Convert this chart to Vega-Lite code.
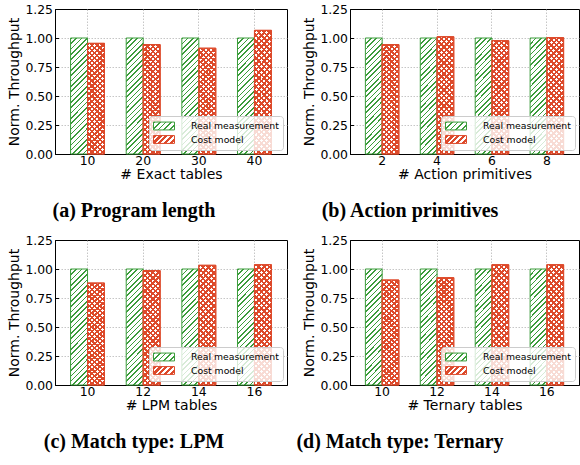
{
  "$schema": "https://vega.github.io/schema/vega-lite/v6.json",
  "padding": {"left": 7, "top": 2, "right": 0, "bottom": 0},
  "params": [
    {"name": "legG", "value": {"gradient": "linear", "x1": 0, "y1": 0, "x2": 1.206, "y2": 0.4535, "stops": [
      {"offset": 0, "color": "#3b9c3b"}, {"offset": 0.06, "color": "#3b9c3b"}, {"offset": 0.06, "color": "#ffffff"}, {"offset": 0.2, "color": "#ffffff"},
      {"offset": 0.2, "color": "#3b9c3b"}, {"offset": 0.26, "color": "#3b9c3b"}, {"offset": 0.26, "color": "#ffffff"}, {"offset": 0.4, "color": "#ffffff"},
      {"offset": 0.4, "color": "#3b9c3b"}, {"offset": 0.46, "color": "#3b9c3b"}, {"offset": 0.46, "color": "#ffffff"}, {"offset": 0.6, "color": "#ffffff"},
      {"offset": 0.6, "color": "#3b9c3b"}, {"offset": 0.66, "color": "#3b9c3b"}, {"offset": 0.66, "color": "#ffffff"}, {"offset": 0.8, "color": "#ffffff"},
      {"offset": 0.8, "color": "#3b9c3b"}, {"offset": 0.86, "color": "#3b9c3b"}, {"offset": 0.86, "color": "#ffffff"}, {"offset": 1, "color": "#ffffff"}]}},
    {"name": "legR", "value": {"gradient": "linear", "x1": 0, "y1": 0, "x2": 1.206, "y2": 0.4535, "stops": [
      {"offset": 0, "color": "#dd4a2b"}, {"offset": 0.11, "color": "#dd4a2b"}, {"offset": 0.11, "color": "#ffffff"}, {"offset": 0.2, "color": "#ffffff"},
      {"offset": 0.2, "color": "#dd4a2b"}, {"offset": 0.31, "color": "#dd4a2b"}, {"offset": 0.31, "color": "#ffffff"}, {"offset": 0.4, "color": "#ffffff"},
      {"offset": 0.4, "color": "#dd4a2b"}, {"offset": 0.51, "color": "#dd4a2b"}, {"offset": 0.51, "color": "#ffffff"}, {"offset": 0.6, "color": "#ffffff"},
      {"offset": 0.6, "color": "#dd4a2b"}, {"offset": 0.71, "color": "#dd4a2b"}, {"offset": 0.71, "color": "#ffffff"}, {"offset": 0.8, "color": "#ffffff"},
      {"offset": 0.8, "color": "#dd4a2b"}, {"offset": 0.91, "color": "#dd4a2b"}, {"offset": 0.91, "color": "#ffffff"}, {"offset": 1, "color": "#ffffff"}]}},
    {"name": "gG", "value": {"gradient": "linear", "x1": 0, "y1": 0, "x2": 0.1646, "y2": 1.123, "stops": [
        {"offset": 0, "color": "#3b9c3b"}, {"offset": 0.012, "color": "#3b9c3b"}, {"offset": 0.012, "color": "#ffffff"}, {"offset": 0.04, "color": "#ffffff"},
        {"offset": 0.04, "color": "#3b9c3b"}, {"offset": 0.052, "color": "#3b9c3b"}, {"offset": 0.052, "color": "#ffffff"}, {"offset": 0.08, "color": "#ffffff"},
        {"offset": 0.08, "color": "#3b9c3b"}, {"offset": 0.092, "color": "#3b9c3b"}, {"offset": 0.092, "color": "#ffffff"}, {"offset": 0.12, "color": "#ffffff"},
        {"offset": 0.12, "color": "#3b9c3b"}, {"offset": 0.132, "color": "#3b9c3b"}, {"offset": 0.132, "color": "#ffffff"}, {"offset": 0.16, "color": "#ffffff"},
        {"offset": 0.16, "color": "#3b9c3b"}, {"offset": 0.172, "color": "#3b9c3b"}, {"offset": 0.172, "color": "#ffffff"}, {"offset": 0.2, "color": "#ffffff"},
        {"offset": 0.2, "color": "#3b9c3b"}, {"offset": 0.212, "color": "#3b9c3b"}, {"offset": 0.212, "color": "#ffffff"}, {"offset": 0.24, "color": "#ffffff"},
        {"offset": 0.24, "color": "#3b9c3b"}, {"offset": 0.252, "color": "#3b9c3b"}, {"offset": 0.252, "color": "#ffffff"}, {"offset": 0.28, "color": "#ffffff"},
        {"offset": 0.28, "color": "#3b9c3b"}, {"offset": 0.292, "color": "#3b9c3b"}, {"offset": 0.292, "color": "#ffffff"}, {"offset": 0.32, "color": "#ffffff"},
        {"offset": 0.32, "color": "#3b9c3b"}, {"offset": 0.332, "color": "#3b9c3b"}, {"offset": 0.332, "color": "#ffffff"}, {"offset": 0.36, "color": "#ffffff"},
        {"offset": 0.36, "color": "#3b9c3b"}, {"offset": 0.372, "color": "#3b9c3b"}, {"offset": 0.372, "color": "#ffffff"}, {"offset": 0.4, "color": "#ffffff"},
        {"offset": 0.4, "color": "#3b9c3b"}, {"offset": 0.412, "color": "#3b9c3b"}, {"offset": 0.412, "color": "#ffffff"}, {"offset": 0.44, "color": "#ffffff"},
        {"offset": 0.44, "color": "#3b9c3b"}, {"offset": 0.452, "color": "#3b9c3b"}, {"offset": 0.452, "color": "#ffffff"}, {"offset": 0.48, "color": "#ffffff"},
        {"offset": 0.48, "color": "#3b9c3b"}, {"offset": 0.492, "color": "#3b9c3b"}, {"offset": 0.492, "color": "#ffffff"}, {"offset": 0.52, "color": "#ffffff"},
        {"offset": 0.52, "color": "#3b9c3b"}, {"offset": 0.532, "color": "#3b9c3b"}, {"offset": 0.532, "color": "#ffffff"}, {"offset": 0.56, "color": "#ffffff"},
        {"offset": 0.56, "color": "#3b9c3b"}, {"offset": 0.572, "color": "#3b9c3b"}, {"offset": 0.572, "color": "#ffffff"}, {"offset": 0.6, "color": "#ffffff"},
        {"offset": 0.6, "color": "#3b9c3b"}, {"offset": 0.612, "color": "#3b9c3b"}, {"offset": 0.612, "color": "#ffffff"}, {"offset": 0.64, "color": "#ffffff"},
        {"offset": 0.64, "color": "#3b9c3b"}, {"offset": 0.652, "color": "#3b9c3b"}, {"offset": 0.652, "color": "#ffffff"}, {"offset": 0.68, "color": "#ffffff"},
        {"offset": 0.68, "color": "#3b9c3b"}, {"offset": 0.692, "color": "#3b9c3b"}, {"offset": 0.692, "color": "#ffffff"}, {"offset": 0.72, "color": "#ffffff"},
        {"offset": 0.72, "color": "#3b9c3b"}, {"offset": 0.732, "color": "#3b9c3b"}, {"offset": 0.732, "color": "#ffffff"}, {"offset": 0.76, "color": "#ffffff"},
        {"offset": 0.76, "color": "#3b9c3b"}, {"offset": 0.772, "color": "#3b9c3b"}, {"offset": 0.772, "color": "#ffffff"}, {"offset": 0.8, "color": "#ffffff"},
        {"offset": 0.8, "color": "#3b9c3b"}, {"offset": 0.812, "color": "#3b9c3b"}, {"offset": 0.812, "color": "#ffffff"}, {"offset": 0.84, "color": "#ffffff"},
        {"offset": 0.84, "color": "#3b9c3b"}, {"offset": 0.852, "color": "#3b9c3b"}, {"offset": 0.852, "color": "#ffffff"}, {"offset": 0.88, "color": "#ffffff"},
        {"offset": 0.88, "color": "#3b9c3b"}, {"offset": 0.892, "color": "#3b9c3b"}, {"offset": 0.892, "color": "#ffffff"}, {"offset": 0.92, "color": "#ffffff"},
        {"offset": 0.92, "color": "#3b9c3b"}, {"offset": 0.932, "color": "#3b9c3b"}, {"offset": 0.932, "color": "#ffffff"}, {"offset": 0.96, "color": "#ffffff"},
        {"offset": 0.96, "color": "#3b9c3b"}, {"offset": 0.972, "color": "#3b9c3b"}, {"offset": 0.972, "color": "#ffffff"}, {"offset": 1, "color": "#ffffff"}]}},
    {"name": "gR1", "value": {"gradient": "linear", "x1": 0, "y1": 0, "x2": 0.1646, "y2": 1.123, "stops": [
        {"offset": 0, "color": "#dd4a2b"}, {"offset": 0.018, "color": "#dd4a2b"}, {"offset": 0.018, "color": "#ffffff"}, {"offset": 0.04, "color": "#ffffff"},
        {"offset": 0.04, "color": "#dd4a2b"}, {"offset": 0.058, "color": "#dd4a2b"}, {"offset": 0.058, "color": "#ffffff"}, {"offset": 0.08, "color": "#ffffff"},
        {"offset": 0.08, "color": "#dd4a2b"}, {"offset": 0.098, "color": "#dd4a2b"}, {"offset": 0.098, "color": "#ffffff"}, {"offset": 0.12, "color": "#ffffff"},
        {"offset": 0.12, "color": "#dd4a2b"}, {"offset": 0.138, "color": "#dd4a2b"}, {"offset": 0.138, "color": "#ffffff"}, {"offset": 0.16, "color": "#ffffff"},
        {"offset": 0.16, "color": "#dd4a2b"}, {"offset": 0.178, "color": "#dd4a2b"}, {"offset": 0.178, "color": "#ffffff"}, {"offset": 0.2, "color": "#ffffff"},
        {"offset": 0.2, "color": "#dd4a2b"}, {"offset": 0.218, "color": "#dd4a2b"}, {"offset": 0.218, "color": "#ffffff"}, {"offset": 0.24, "color": "#ffffff"},
        {"offset": 0.24, "color": "#dd4a2b"}, {"offset": 0.258, "color": "#dd4a2b"}, {"offset": 0.258, "color": "#ffffff"}, {"offset": 0.28, "color": "#ffffff"},
        {"offset": 0.28, "color": "#dd4a2b"}, {"offset": 0.298, "color": "#dd4a2b"}, {"offset": 0.298, "color": "#ffffff"}, {"offset": 0.32, "color": "#ffffff"},
        {"offset": 0.32, "color": "#dd4a2b"}, {"offset": 0.338, "color": "#dd4a2b"}, {"offset": 0.338, "color": "#ffffff"}, {"offset": 0.36, "color": "#ffffff"},
        {"offset": 0.36, "color": "#dd4a2b"}, {"offset": 0.378, "color": "#dd4a2b"}, {"offset": 0.378, "color": "#ffffff"}, {"offset": 0.4, "color": "#ffffff"},
        {"offset": 0.4, "color": "#dd4a2b"}, {"offset": 0.418, "color": "#dd4a2b"}, {"offset": 0.418, "color": "#ffffff"}, {"offset": 0.44, "color": "#ffffff"},
        {"offset": 0.44, "color": "#dd4a2b"}, {"offset": 0.458, "color": "#dd4a2b"}, {"offset": 0.458, "color": "#ffffff"}, {"offset": 0.48, "color": "#ffffff"},
        {"offset": 0.48, "color": "#dd4a2b"}, {"offset": 0.498, "color": "#dd4a2b"}, {"offset": 0.498, "color": "#ffffff"}, {"offset": 0.52, "color": "#ffffff"},
        {"offset": 0.52, "color": "#dd4a2b"}, {"offset": 0.538, "color": "#dd4a2b"}, {"offset": 0.538, "color": "#ffffff"}, {"offset": 0.56, "color": "#ffffff"},
        {"offset": 0.56, "color": "#dd4a2b"}, {"offset": 0.578, "color": "#dd4a2b"}, {"offset": 0.578, "color": "#ffffff"}, {"offset": 0.6, "color": "#ffffff"},
        {"offset": 0.6, "color": "#dd4a2b"}, {"offset": 0.618, "color": "#dd4a2b"}, {"offset": 0.618, "color": "#ffffff"}, {"offset": 0.64, "color": "#ffffff"},
        {"offset": 0.64, "color": "#dd4a2b"}, {"offset": 0.658, "color": "#dd4a2b"}, {"offset": 0.658, "color": "#ffffff"}, {"offset": 0.68, "color": "#ffffff"},
        {"offset": 0.68, "color": "#dd4a2b"}, {"offset": 0.698, "color": "#dd4a2b"}, {"offset": 0.698, "color": "#ffffff"}, {"offset": 0.72, "color": "#ffffff"},
        {"offset": 0.72, "color": "#dd4a2b"}, {"offset": 0.738, "color": "#dd4a2b"}, {"offset": 0.738, "color": "#ffffff"}, {"offset": 0.76, "color": "#ffffff"},
        {"offset": 0.76, "color": "#dd4a2b"}, {"offset": 0.778, "color": "#dd4a2b"}, {"offset": 0.778, "color": "#ffffff"}, {"offset": 0.8, "color": "#ffffff"},
        {"offset": 0.8, "color": "#dd4a2b"}, {"offset": 0.818, "color": "#dd4a2b"}, {"offset": 0.818, "color": "#ffffff"}, {"offset": 0.84, "color": "#ffffff"},
        {"offset": 0.84, "color": "#dd4a2b"}, {"offset": 0.858, "color": "#dd4a2b"}, {"offset": 0.858, "color": "#ffffff"}, {"offset": 0.88, "color": "#ffffff"},
        {"offset": 0.88, "color": "#dd4a2b"}, {"offset": 0.898, "color": "#dd4a2b"}, {"offset": 0.898, "color": "#ffffff"}, {"offset": 0.92, "color": "#ffffff"},
        {"offset": 0.92, "color": "#dd4a2b"}, {"offset": 0.938, "color": "#dd4a2b"}, {"offset": 0.938, "color": "#ffffff"}, {"offset": 0.96, "color": "#ffffff"},
        {"offset": 0.96, "color": "#dd4a2b"}, {"offset": 0.978, "color": "#dd4a2b"}, {"offset": 0.978, "color": "#ffffff"}, {"offset": 1, "color": "#ffffff"}]}},
    {"name": "gR2", "value": {"gradient": "linear", "x1": 0, "y1": 1, "x2": 0.1646, "y2": -0.123, "stops": [
        {"offset": 0, "color": "#dd4a2b"}, {"offset": 0.018, "color": "#dd4a2b"}, {"offset": 0.018, "color": "rgba(255,255,255,0)"}, {"offset": 0.04, "color": "rgba(255,255,255,0)"},
        {"offset": 0.04, "color": "#dd4a2b"}, {"offset": 0.058, "color": "#dd4a2b"}, {"offset": 0.058, "color": "rgba(255,255,255,0)"}, {"offset": 0.08, "color": "rgba(255,255,255,0)"},
        {"offset": 0.08, "color": "#dd4a2b"}, {"offset": 0.098, "color": "#dd4a2b"}, {"offset": 0.098, "color": "rgba(255,255,255,0)"}, {"offset": 0.12, "color": "rgba(255,255,255,0)"},
        {"offset": 0.12, "color": "#dd4a2b"}, {"offset": 0.138, "color": "#dd4a2b"}, {"offset": 0.138, "color": "rgba(255,255,255,0)"}, {"offset": 0.16, "color": "rgba(255,255,255,0)"},
        {"offset": 0.16, "color": "#dd4a2b"}, {"offset": 0.178, "color": "#dd4a2b"}, {"offset": 0.178, "color": "rgba(255,255,255,0)"}, {"offset": 0.2, "color": "rgba(255,255,255,0)"},
        {"offset": 0.2, "color": "#dd4a2b"}, {"offset": 0.218, "color": "#dd4a2b"}, {"offset": 0.218, "color": "rgba(255,255,255,0)"}, {"offset": 0.24, "color": "rgba(255,255,255,0)"},
        {"offset": 0.24, "color": "#dd4a2b"}, {"offset": 0.258, "color": "#dd4a2b"}, {"offset": 0.258, "color": "rgba(255,255,255,0)"}, {"offset": 0.28, "color": "rgba(255,255,255,0)"},
        {"offset": 0.28, "color": "#dd4a2b"}, {"offset": 0.298, "color": "#dd4a2b"}, {"offset": 0.298, "color": "rgba(255,255,255,0)"}, {"offset": 0.32, "color": "rgba(255,255,255,0)"},
        {"offset": 0.32, "color": "#dd4a2b"}, {"offset": 0.338, "color": "#dd4a2b"}, {"offset": 0.338, "color": "rgba(255,255,255,0)"}, {"offset": 0.36, "color": "rgba(255,255,255,0)"},
        {"offset": 0.36, "color": "#dd4a2b"}, {"offset": 0.378, "color": "#dd4a2b"}, {"offset": 0.378, "color": "rgba(255,255,255,0)"}, {"offset": 0.4, "color": "rgba(255,255,255,0)"},
        {"offset": 0.4, "color": "#dd4a2b"}, {"offset": 0.418, "color": "#dd4a2b"}, {"offset": 0.418, "color": "rgba(255,255,255,0)"}, {"offset": 0.44, "color": "rgba(255,255,255,0)"},
        {"offset": 0.44, "color": "#dd4a2b"}, {"offset": 0.458, "color": "#dd4a2b"}, {"offset": 0.458, "color": "rgba(255,255,255,0)"}, {"offset": 0.48, "color": "rgba(255,255,255,0)"},
        {"offset": 0.48, "color": "#dd4a2b"}, {"offset": 0.498, "color": "#dd4a2b"}, {"offset": 0.498, "color": "rgba(255,255,255,0)"}, {"offset": 0.52, "color": "rgba(255,255,255,0)"},
        {"offset": 0.52, "color": "#dd4a2b"}, {"offset": 0.538, "color": "#dd4a2b"}, {"offset": 0.538, "color": "rgba(255,255,255,0)"}, {"offset": 0.56, "color": "rgba(255,255,255,0)"},
        {"offset": 0.56, "color": "#dd4a2b"}, {"offset": 0.578, "color": "#dd4a2b"}, {"offset": 0.578, "color": "rgba(255,255,255,0)"}, {"offset": 0.6, "color": "rgba(255,255,255,0)"},
        {"offset": 0.6, "color": "#dd4a2b"}, {"offset": 0.618, "color": "#dd4a2b"}, {"offset": 0.618, "color": "rgba(255,255,255,0)"}, {"offset": 0.64, "color": "rgba(255,255,255,0)"},
        {"offset": 0.64, "color": "#dd4a2b"}, {"offset": 0.658, "color": "#dd4a2b"}, {"offset": 0.658, "color": "rgba(255,255,255,0)"}, {"offset": 0.68, "color": "rgba(255,255,255,0)"},
        {"offset": 0.68, "color": "#dd4a2b"}, {"offset": 0.698, "color": "#dd4a2b"}, {"offset": 0.698, "color": "rgba(255,255,255,0)"}, {"offset": 0.72, "color": "rgba(255,255,255,0)"},
        {"offset": 0.72, "color": "#dd4a2b"}, {"offset": 0.738, "color": "#dd4a2b"}, {"offset": 0.738, "color": "rgba(255,255,255,0)"}, {"offset": 0.76, "color": "rgba(255,255,255,0)"},
        {"offset": 0.76, "color": "#dd4a2b"}, {"offset": 0.778, "color": "#dd4a2b"}, {"offset": 0.778, "color": "rgba(255,255,255,0)"}, {"offset": 0.8, "color": "rgba(255,255,255,0)"},
        {"offset": 0.8, "color": "#dd4a2b"}, {"offset": 0.818, "color": "#dd4a2b"}, {"offset": 0.818, "color": "rgba(255,255,255,0)"}, {"offset": 0.84, "color": "rgba(255,255,255,0)"},
        {"offset": 0.84, "color": "#dd4a2b"}, {"offset": 0.858, "color": "#dd4a2b"}, {"offset": 0.858, "color": "rgba(255,255,255,0)"}, {"offset": 0.88, "color": "rgba(255,255,255,0)"},
        {"offset": 0.88, "color": "#dd4a2b"}, {"offset": 0.898, "color": "#dd4a2b"}, {"offset": 0.898, "color": "rgba(255,255,255,0)"}, {"offset": 0.92, "color": "rgba(255,255,255,0)"},
        {"offset": 0.92, "color": "#dd4a2b"}, {"offset": 0.938, "color": "#dd4a2b"}, {"offset": 0.938, "color": "rgba(255,255,255,0)"}, {"offset": 0.96, "color": "rgba(255,255,255,0)"},
        {"offset": 0.96, "color": "#dd4a2b"}, {"offset": 0.978, "color": "#dd4a2b"}, {"offset": 0.978, "color": "rgba(255,255,255,0)"}, {"offset": 1, "color": "rgba(255,255,255,0)"}]}}
  ],
  "datasets": {
    "a": [
      {"x": 10, "s": "Real measurement", "v": 1.0}, {"x": 10, "s": "Cost model", "v": 0.954},
      {"x": 20, "s": "Real measurement", "v": 1.0}, {"x": 20, "s": "Cost model", "v": 0.943},
      {"x": 30, "s": "Real measurement", "v": 1.0}, {"x": 30, "s": "Cost model", "v": 0.912},
      {"x": 40, "s": "Real measurement", "v": 1.0}, {"x": 40, "s": "Cost model", "v": 1.066}
    ],
    "b": [
      {"x": 2, "s": "Real measurement", "v": 1.0}, {"x": 2, "s": "Cost model", "v": 0.943},
      {"x": 4, "s": "Real measurement", "v": 1.0}, {"x": 4, "s": "Cost model", "v": 1.011},
      {"x": 6, "s": "Real measurement", "v": 1.0}, {"x": 6, "s": "Cost model", "v": 0.977},
      {"x": 8, "s": "Real measurement", "v": 1.0}, {"x": 8, "s": "Cost model", "v": 1.003}
    ],
    "c": [
      {"x": 10, "s": "Real measurement", "v": 1.0}, {"x": 10, "s": "Cost model", "v": 0.879},
      {"x": 12, "s": "Real measurement", "v": 1.0}, {"x": 12, "s": "Cost model", "v": 0.986},
      {"x": 14, "s": "Real measurement", "v": 1.0}, {"x": 14, "s": "Cost model", "v": 1.032},
      {"x": 16, "s": "Real measurement", "v": 1.0}, {"x": 16, "s": "Cost model", "v": 1.037}
    ],
    "d": [
      {"x": 10, "s": "Real measurement", "v": 1.0}, {"x": 10, "s": "Cost model", "v": 0.905},
      {"x": 12, "s": "Real measurement", "v": 1.0}, {"x": 12, "s": "Cost model", "v": 0.925},
      {"x": 14, "s": "Real measurement", "v": 1.0}, {"x": 14, "s": "Cost model", "v": 1.037},
      {"x": 16, "s": "Real measurement", "v": 1.0}, {"x": 16, "s": "Cost model", "v": 1.037}
    ]
  },
  "resolve": {"scale": {"stroke": "independent", "fill": "independent", "x": "independent", "xOffset": "independent", "y": "independent"}, "legend": {"stroke": "independent", "fill": "independent"}},
  "vconcat": [
    {"spacing": 63, "bounds": "flush",
     "resolve": {"scale": {"stroke": "independent", "fill": "independent", "x": "independent", "xOffset": "independent", "y": "independent"}, "legend": {"stroke": "independent", "fill": "independent"}},
     "hconcat": [
      {"width": 232, "height": 145, "data": {"name": "a"},
       "title": {"text": "(a) Program length", "dx": -37},
       "encoding": {
         "x": {"field": "x", "type": "ordinal", "scale": {"paddingInner": 0.39, "paddingOuter": 0.28}, "axis": {"title": "# Exact tables", "grid": true, "bandPosition": 0.5}},
         "xOffset": {"field": "s", "scale": {"domain": ["Real measurement", "Cost model"], "paddingInner": 0, "paddingOuter": 0}},
         "y": {"field": "v", "type": "quantitative", "scale": {"domain": [0, 1.25], "nice": false}, "axis": {"title": "Norm. Throughput", "values": [0, 0.25, 0.5, 0.75, 1, 1.25], "format": ".2f", "gridOpacity": {"condition": {"test": "datum.value === 0 || datum.value === 1.25", "value": 0}, "value": 1}}},
         "stroke": {"field": "s", "type": "nominal", "scale": {"domain": ["Real measurement", "Cost model"], "range": ["#3b9c3b", "#dd4a2b"]},
           "legend": {"title": null, "orient": "bottom-right", "labelExpr": "datum.label + '    '", "symbolOpacity": 1}}
       },
       "layer": [
         {"transform": [{"filter": "datum.s === 'Real measurement'"}], "mark": {"type": "bar", "strokeWidth": 1, "fill": {"expr": "gG"}}},
         {"transform": [{"filter": "datum.s === 'Cost model'"}], "mark": {"type": "bar", "strokeWidth": 1, "fill": {"expr": "gR1"}}},
         {"transform": [{"filter": "datum.s === 'Cost model'"}], "mark": {"type": "bar", "strokeWidth": 1, "fill": {"expr": "gR2"}}},
         {"mark": {"type": "bar", "opacity": 0},
          "encoding": {"fill": {"field": "s", "type": "nominal", "scale": {"domain": ["Real measurement", "Cost model"], "range": [{"expr": "legG"}, {"expr": "legR"}]},
            "legend": {"title": null, "orient": "bottom-right", "labelExpr": "datum.label + '    '", "symbolOpacity": 1}}}}
       ]},
      {"width": 229, "height": 145, "data": {"name": "b"},
       "title": {"text": "(b) Action primitives", "dx": -54.5},
       "encoding": {
         "x": {"field": "x", "type": "ordinal", "scale": {"paddingInner": 0.39, "paddingOuter": 0.28}, "axis": {"title": "# Action primitives", "grid": true, "bandPosition": 0.5}},
         "xOffset": {"field": "s", "scale": {"domain": ["Real measurement", "Cost model"], "paddingInner": 0, "paddingOuter": 0}},
         "y": {"field": "v", "type": "quantitative", "scale": {"domain": [0, 1.25], "nice": false}, "axis": {"title": "Norm. Throughput", "values": [0, 0.25, 0.5, 0.75, 1, 1.25], "format": ".2f", "gridOpacity": {"condition": {"test": "datum.value === 0 || datum.value === 1.25", "value": 0}, "value": 1}}},
         "stroke": {"field": "s", "type": "nominal", "scale": {"domain": ["Real measurement", "Cost model"], "range": ["#3b9c3b", "#dd4a2b"]},
           "legend": {"title": null, "orient": "bottom-right", "labelExpr": "datum.label + '    '", "symbolOpacity": 1}}
       },
       "layer": [
         {"transform": [{"filter": "datum.s === 'Real measurement'"}], "mark": {"type": "bar", "strokeWidth": 1, "fill": {"expr": "gG"}}},
         {"transform": [{"filter": "datum.s === 'Cost model'"}], "mark": {"type": "bar", "strokeWidth": 1, "fill": {"expr": "gR1"}}},
         {"transform": [{"filter": "datum.s === 'Cost model'"}], "mark": {"type": "bar", "strokeWidth": 1, "fill": {"expr": "gR2"}}},
         {"mark": {"type": "bar", "opacity": 0},
          "encoding": {"fill": {"field": "s", "type": "nominal", "scale": {"domain": ["Real measurement", "Cost model"], "range": [{"expr": "legG"}, {"expr": "legR"}]},
            "legend": {"title": null, "orient": "bottom-right", "labelExpr": "datum.label + '    '", "symbolOpacity": 1}}}}
       ]}
    ]},
    {"spacing": 63, "bounds": "flush",
     "resolve": {"scale": {"stroke": "independent", "fill": "independent", "x": "independent", "xOffset": "independent", "y": "independent"}, "legend": {"stroke": "independent", "fill": "independent"}},
     "hconcat": [
      {"width": 232, "height": 145, "data": {"name": "c"},
       "title": {"text": "(c) Match type: LPM", "dx": -37},
       "encoding": {
         "x": {"field": "x", "type": "ordinal", "scale": {"paddingInner": 0.39, "paddingOuter": 0.28}, "axis": {"title": "# LPM tables", "grid": true, "bandPosition": 0.5}},
         "xOffset": {"field": "s", "scale": {"domain": ["Real measurement", "Cost model"], "paddingInner": 0, "paddingOuter": 0}},
         "y": {"field": "v", "type": "quantitative", "scale": {"domain": [0, 1.25], "nice": false}, "axis": {"title": "Norm. Throughput", "values": [0, 0.25, 0.5, 0.75, 1, 1.25], "format": ".2f", "gridOpacity": {"condition": {"test": "datum.value === 0 || datum.value === 1.25", "value": 0}, "value": 1}}},
         "stroke": {"field": "s", "type": "nominal", "scale": {"domain": ["Real measurement", "Cost model"], "range": ["#3b9c3b", "#dd4a2b"]},
           "legend": {"title": null, "orient": "bottom-right", "labelExpr": "datum.label + '    '", "symbolOpacity": 1}}
       },
       "layer": [
         {"transform": [{"filter": "datum.s === 'Real measurement'"}], "mark": {"type": "bar", "strokeWidth": 1, "fill": {"expr": "gG"}}},
         {"transform": [{"filter": "datum.s === 'Cost model'"}], "mark": {"type": "bar", "strokeWidth": 1, "fill": {"expr": "gR1"}}},
         {"transform": [{"filter": "datum.s === 'Cost model'"}], "mark": {"type": "bar", "strokeWidth": 1, "fill": {"expr": "gR2"}}},
         {"mark": {"type": "bar", "opacity": 0},
          "encoding": {"fill": {"field": "s", "type": "nominal", "scale": {"domain": ["Real measurement", "Cost model"], "range": [{"expr": "legG"}, {"expr": "legR"}]},
            "legend": {"title": null, "orient": "bottom-right", "labelExpr": "datum.label + '    '", "symbolOpacity": 1}}}}
       ]},
      {"width": 229, "height": 145, "data": {"name": "d"},
       "title": {"text": "(d) Match type: Ternary", "dx": -64.5},
       "encoding": {
         "x": {"field": "x", "type": "ordinal", "scale": {"paddingInner": 0.39, "paddingOuter": 0.28}, "axis": {"title": "# Ternary tables", "grid": true, "bandPosition": 0.5}},
         "xOffset": {"field": "s", "scale": {"domain": ["Real measurement", "Cost model"], "paddingInner": 0, "paddingOuter": 0}},
         "y": {"field": "v", "type": "quantitative", "scale": {"domain": [0, 1.25], "nice": false}, "axis": {"title": "Norm. Throughput", "values": [0, 0.25, 0.5, 0.75, 1, 1.25], "format": ".2f", "gridOpacity": {"condition": {"test": "datum.value === 0 || datum.value === 1.25", "value": 0}, "value": 1}}},
         "stroke": {"field": "s", "type": "nominal", "scale": {"domain": ["Real measurement", "Cost model"], "range": ["#3b9c3b", "#dd4a2b"]},
           "legend": {"title": null, "orient": "bottom-right", "labelExpr": "datum.label + '    '", "symbolOpacity": 1}}
       },
       "layer": [
         {"transform": [{"filter": "datum.s === 'Real measurement'"}], "mark": {"type": "bar", "strokeWidth": 1, "fill": {"expr": "gG"}}},
         {"transform": [{"filter": "datum.s === 'Cost model'"}], "mark": {"type": "bar", "strokeWidth": 1, "fill": {"expr": "gR1"}}},
         {"transform": [{"filter": "datum.s === 'Cost model'"}], "mark": {"type": "bar", "strokeWidth": 1, "fill": {"expr": "gR2"}}},
         {"mark": {"type": "bar", "opacity": 0},
          "encoding": {"fill": {"field": "s", "type": "nominal", "scale": {"domain": ["Real measurement", "Cost model"], "range": [{"expr": "legG"}, {"expr": "legR"}]},
            "legend": {"title": null, "orient": "bottom-right", "labelExpr": "datum.label + '    '", "symbolOpacity": 1}}}}
       ]}
    ]}
  ],
  "spacing": 11,
  "config": {
    "font": "DejaVu Sans",
    "background": "white",
    "view": {"stroke": "black", "strokeWidth": 1},
    "axis": {"labelFont": "DejaVu Sans", "labelFontSize": 12.4, "labelColor": "black", "titleFont": "DejaVu Sans", "titleFontSize": 14, "titleFontWeight": "normal", "titleColor": "black", "domainColor": "black", "tickColor": "black", "tickSize": -3.5, "gridColor": "#b8b8b8", "gridDash": [1.5, 1.5], "gridWidth": 0.8},
    "axisX": {"labelAngle": 0, "labelPadding": 3.5, "titlePadding": 1.5},
    "axisY": {"labelPadding": 6, "titlePadding": 3},
    "title": {"font": "Liberation Serif", "fontSize": 20, "fontWeight": "bold", "color": "black", "orient": "bottom", "frame": "group", "anchor": "middle", "offset": 19},
    "legend": {"labelFont": "DejaVu Sans", "labelFontSize": 9.3, "labelColor": "black", "symbolType": "M-2,-0.75H2V0.75H-2Z", "symbolSize": 110, "symbolStrokeWidth": 1, "symbolOpacity": 1, "fillColor": "rgba(255,255,255,0.8)", "strokeColor": "#cccccc", "cornerRadius": 3, "padding": 4, "offset": 4.5, "rowPadding": 1.5, "labelOffset": 21, "symbolOffset": 5}
  }
}
